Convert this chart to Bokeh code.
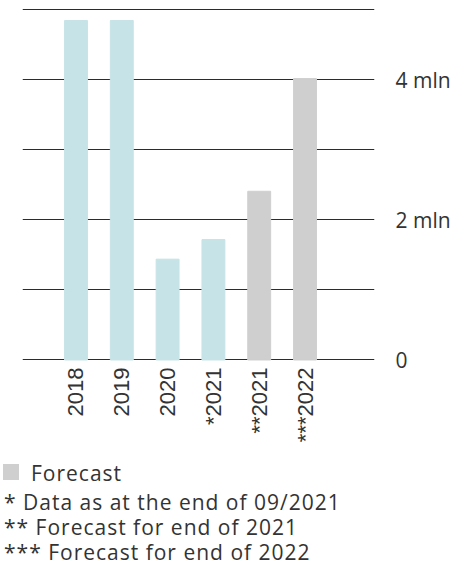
from bokeh.plotting import figure
from bokeh.layouts import column
from bokeh.models import Range1d, FixedTicker, LinearAxis, ColumnDataSource, Div
from bokeh.embed import file_html
from bokeh.resources import INLINE

# Data (millions)
categories = ["2018", "2019", "2020", "*2021", "**2021", "***2022"]
values = [4.85, 4.85, 1.44, 1.72, 2.41, 4.02]
is_forecast = [False, False, False, False, True, True]

y_ticks = [0, 2, 4]
y_tick_labels = {0: "0", 2: "2 mln", 4: "4 mln"}
grid_ticks = [0, 1, 2, 3, 4, 5]

legend_label = "Forecast"
footnotes = [
    "* Data as at the end of 09/2021",
    "** Forecast for end of 2021",
    "*** Forecast for end of 2022",
]

ACTUAL_COLOR = "#c6e3e7"
FORECAST_COLOR = "#cfcfcf"
TEXT_COLOR = "#333333"
LINE_COLOR = "#2b2b2b"
FONT = "Open Sans"

xs = list(range(len(categories)))
src = ColumnDataSource(dict(
    x=xs,
    top=values,
    color=[FORECAST_COLOR if f else ACTUAL_COLOR for f in is_forecast],
))

p = figure(
    width=468, height=462,
    x_range=Range1d(-1.168, 6.517),
    y_range=Range1d(-0.036, 5.064),
    output_backend="svg", toolbar_location=None,
    x_axis_location="below", y_axis_location=None,
    min_border_left=22, min_border_right=94,
    min_border_top=5, min_border_bottom=100,
    margin=(0, 0, 0, 0),
)
p.outline_line_color = None
p.background_fill_color = "white"
p.border_fill_color = "white"

# Horizontal grid lines every 1 mln
p.xgrid.grid_line_color = None
p.ygrid.ticker = FixedTicker(ticks=grid_ticks)
p.ygrid.grid_line_color = LINE_COLOR
p.ygrid.grid_line_width = 1.1
p.ygrid.level = "underlay"

p.vbar(x="x", top="top", bottom=0, width=0.5, color="color", source=src)

# Category labels, vertical
xa = p.xaxis[0]
xa.ticker = FixedTicker(ticks=xs)
xa.major_label_overrides = {i: c for i, c in zip(xs, categories)}
xa.major_label_orientation = 3.14159265 / 2
xa.axis_line_color = None
xa.major_tick_line_color = None
xa.minor_tick_line_color = None
xa.major_label_standoff = -1
xa.major_label_text_font = "Liberation Sans"
xa.major_label_text_font_size = "22px"
xa.major_label_text_color = TEXT_COLOR

# Value axis on the right
ya = LinearAxis(ticker=FixedTicker(ticks=y_ticks))
ya.major_label_overrides = y_tick_labels
ya.axis_line_color = None
ya.major_tick_line_color = None
ya.minor_tick_line_color = None
ya.major_label_standoff = 15
ya.major_label_text_font = FONT
ya.major_label_text_font_size = "21px"
ya.major_label_text_color = TEXT_COLOR
p.add_layout(ya, "right")

# Footer: legend swatch and footnotes
line_style = ("position:absolute;left:{left}px;top:{top}px;white-space:nowrap;"
              "line-height:{lh}px;")
swatch = ("<span style='position:absolute;left:3px;top:2px;width:16px;height:16px;"
          f"background:{FORECAST_COLOR};'></span>")
rows = [swatch,
        f"<div style='{line_style.format(left=31, top=1, lh=21)}'>{legend_label}</div>"]
for note, top, lh in zip(footnotes, [29.5, 55, 81.5], [21, 21, 16]):
    rows.append(f"<div style='{line_style.format(left=4, top=top, lh=lh)}'>{note}</div>")

footer = Div(
    text="".join(rows),
    width=468, height=100, margin=(0, 0, 0, 0),
    styles={"position": "relative", "font-family": FONT, "font-size": "21px",
            "letter-spacing": "1px", "color": TEXT_COLOR},
)

layout = column(p, footer, spacing=0)
open("out.html", "w").write(file_html(layout, INLINE))
